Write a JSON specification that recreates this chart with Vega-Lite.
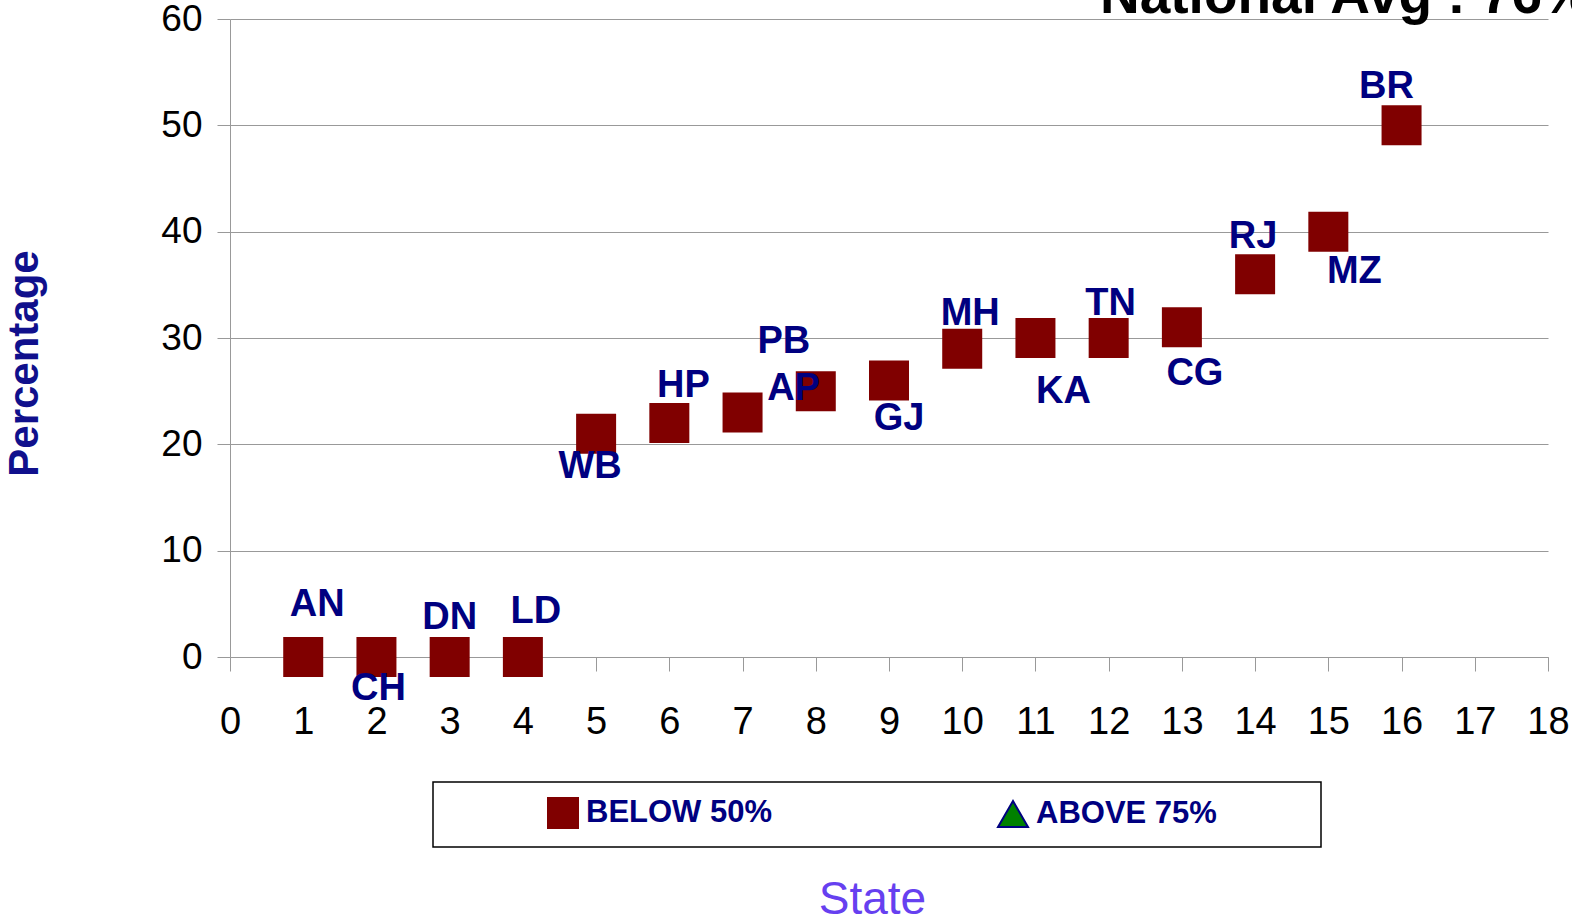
{
  "$schema": "https://vega.github.io/schema/vega-lite/v6.json",
  "autosize": {"type": "none"},
  "width": 1318,
  "height": 638,
  "padding": {"left": 230, "top": 19, "right": 24, "bottom": 262},
  "background": "white",
  "title": {
    "text": "National Avg : 76%",
    "anchor": "start",
    "frame": "group",
    "dx": 870,
    "dy": 68,
    "offset": 0,
    "baseline": "alphabetic",
    "font": "Liberation Sans",
    "fontSize": 55,
    "fontWeight": "bold",
    "color": "black"
  },
  "data": {
    "values": [
      {"i": 1, "state": "AN", "pct": 0, "group": "BELOW 50%"},
      {"i": 2, "state": "CH", "pct": 0, "group": "BELOW 50%"},
      {"i": 3, "state": "DN", "pct": 0, "group": "BELOW 50%"},
      {"i": 4, "state": "LD", "pct": 0, "group": "BELOW 50%"},
      {"i": 5, "state": "WB", "pct": 21, "group": "BELOW 50%"},
      {"i": 6, "state": "HP", "pct": 22, "group": "BELOW 50%"},
      {"i": 7, "state": "AP", "pct": 23, "group": "BELOW 50%"},
      {"i": 8, "state": "PB", "pct": 25, "group": "BELOW 50%"},
      {"i": 9, "state": "GJ", "pct": 26, "group": "BELOW 50%"},
      {"i": 10, "state": "MH", "pct": 29, "group": "BELOW 50%"},
      {"i": 11, "state": "KA", "pct": 30, "group": "BELOW 50%"},
      {"i": 12, "state": "TN", "pct": 30, "group": "BELOW 50%"},
      {"i": 13, "state": "CG", "pct": 31, "group": "BELOW 50%"},
      {"i": 14, "state": "RJ", "pct": 36, "group": "BELOW 50%"},
      {"i": 15, "state": "MZ", "pct": 40, "group": "BELOW 50%"},
      {"i": 16, "state": "BR", "pct": 50, "group": "BELOW 50%"}
    ]
  },
  "encoding": {
    "x": {
      "field": "i", "type": "quantitative",
      "scale": {"domain": [0, 18], "nice": false, "zero": false},
      "axis": {
        "values": [0,1,2,3,4,5,6,7,8,9,10,11,12,13,14,15,16,17,18],
        "grid": false,
        "title": "State",
        "titleFont": "Liberation Sans",
        "titleFontSize": 46,
        "titleFontWeight": "normal",
        "titleColor": "#6640f0",
        "titleX": 642,
        "titleY": 256,
        "titleBaseline": "alphabetic",
        "titleAlign": "center",
        "domainColor": "#999999",
        "tickColor": "#999999",
        "tickSize": 14,
        "labelFont": "Liberation Sans",
        "labelFontSize": 38,
        "labelColor": "black",
        "labelPadding": 32,
        "labelBaseline": "top",
        "labelFlush": false,
        "labelOverlap": false
      }
    },
    "y": {
      "field": "pct", "type": "quantitative",
      "scale": {"domain": [0, 60], "nice": false},
      "axis": {
        "values": [0, 10, 20, 30, 40, 50, 60],
        "grid": true,
        "gridColor": "#999999",
        "gridWidth": 1,
        "domainColor": "#999999",
        "tickColor": "#999999",
        "tickSize": 13,
        "labelFont": "Liberation Sans",
        "labelFontSize": 37,
        "labelColor": "black",
        "labelPadding": 15,
        "labelFlush": false,
        "labelOverlap": false,
        "title": "Percentage",
        "titleFont": "Liberation Sans",
        "titleFontSize": 42,
        "titleFontWeight": "bold",
        "titleColor": "#10108c",
        "titleAngle": -90,
        "titleX": -193,
        "titleY": 344,
        "titleAlign": "center",
        "titleBaseline": "alphabetic"
      }
    }
  },
  "layer": [
    {
      "mark": {"type": "point", "filled": true, "size": 1600, "opacity": 1, "strokeWidth": 0},
      "encoding": {
        "color": {
          "field": "group", "type": "nominal",
          "scale": {"domain": ["BELOW 50%", "ABOVE 75%"], "range": ["#800000", "#008000"]},
          "legend": {
            "title": " ",
            "titleOrient": "right",
            "titlePadding": 89,
            "titleFontSize": 10,
            "orient": "none",
            "legendX": 203,
            "legendY": 763,
            "direction": "horizontal",
            "fillColor": "white",
            "strokeColor": "black",
            "padding": 15,
            "symbolSize": 900,
            "symbolOffset": 99,
            "labelOffset": 7,
            "columnPadding": 125,
            "labelFont": "Liberation Sans",
            "labelFontWeight": "bold",
            "labelFontSize": 31,
            "labelColor": "#000080",
            "labelLimit": 400,
            "symbolOpacity": 1,
            "symbolStrokeWidth": 2,
            "encode": {"symbols": {"update": {"stroke": {"signal": "datum.value === 'ABOVE 75%' ? '#000080' : '#800000'"}}}}
          }
        },
        "shape": {
          "field": "group", "type": "nominal",
          "scale": {"domain": ["BELOW 50%", "ABOVE 75%"], "range": ["square", "triangle-up"]},
          "legend": {
            "title": " ",
            "titleOrient": "right",
            "titlePadding": 89,
            "titleFontSize": 10,
            "orient": "none",
            "legendX": 203,
            "legendY": 763,
            "direction": "horizontal",
            "fillColor": "white",
            "strokeColor": "black",
            "padding": 15,
            "symbolSize": 900,
            "symbolOffset": 99,
            "labelOffset": 7,
            "columnPadding": 125,
            "labelFont": "Liberation Sans",
            "labelFontWeight": "bold",
            "labelFontSize": 31,
            "labelColor": "#000080",
            "labelLimit": 400,
            "symbolOpacity": 1,
            "symbolStrokeWidth": 2
          }
        }
      }
    },
    {"transform": [{"filter": "datum.state === 'AN'"}], "mark": {"type": "text", "dx": 14, "dy": -52}, "encoding": {"text": {"field": "state"}}},
    {"transform": [{"filter": "datum.state === 'CH'"}], "mark": {"type": "text", "dx": 2, "dy": 32}, "encoding": {"text": {"field": "state"}}},
    {"transform": [{"filter": "datum.state === 'DN'"}], "mark": {"type": "text", "dx": 0, "dy": -39}, "encoding": {"text": {"field": "state"}}},
    {"transform": [{"filter": "datum.state === 'LD'"}], "mark": {"type": "text", "dx": 13, "dy": -45}, "encoding": {"text": {"field": "state"}}},
    {"transform": [{"filter": "datum.state === 'WB'"}], "mark": {"type": "text", "dx": -6, "dy": 33}, "encoding": {"text": {"field": "state"}}},
    {"transform": [{"filter": "datum.state === 'HP'"}], "mark": {"type": "text", "dx": 14, "dy": -37}, "encoding": {"text": {"field": "state"}}},
    {"transform": [{"filter": "datum.state === 'AP'"}], "mark": {"type": "text", "dx": 51, "dy": -23}, "encoding": {"text": {"field": "state"}}},
    {"transform": [{"filter": "datum.state === 'PB'"}], "mark": {"type": "text", "dx": -32, "dy": -49}, "encoding": {"text": {"field": "state"}}},
    {"transform": [{"filter": "datum.state === 'GJ'"}], "mark": {"type": "text", "dx": 10, "dy": 38}, "encoding": {"text": {"field": "state"}}},
    {"transform": [{"filter": "datum.state === 'MH'"}], "mark": {"type": "text", "dx": 8, "dy": -35}, "encoding": {"text": {"field": "state"}}},
    {"transform": [{"filter": "datum.state === 'KA'"}], "mark": {"type": "text", "dx": 28, "dy": 54}, "encoding": {"text": {"field": "state"}}},
    {"transform": [{"filter": "datum.state === 'TN'"}], "mark": {"type": "text", "dx": 2, "dy": -34}, "encoding": {"text": {"field": "state"}}},
    {"transform": [{"filter": "datum.state === 'CG'"}], "mark": {"type": "text", "dx": 13, "dy": 47}, "encoding": {"text": {"field": "state"}}},
    {"transform": [{"filter": "datum.state === 'RJ'"}], "mark": {"type": "text", "dx": -2, "dy": -37}, "encoding": {"text": {"field": "state"}}},
    {"transform": [{"filter": "datum.state === 'MZ'"}], "mark": {"type": "text", "dx": 26, "dy": 40}, "encoding": {"text": {"field": "state"}}},
    {"transform": [{"filter": "datum.state === 'BR'"}], "mark": {"type": "text", "dx": -15, "dy": -38}, "encoding": {"text": {"field": "state"}}}
  ],
  "config": {
    "view": {"stroke": null},
    "text": {"font": "Liberation Sans", "fontSize": 38, "fontWeight": "bold", "color": "#000080", "baseline": "middle", "align": "center"},
    "legend": {"strokeWidth": 1.5}
  }
}
